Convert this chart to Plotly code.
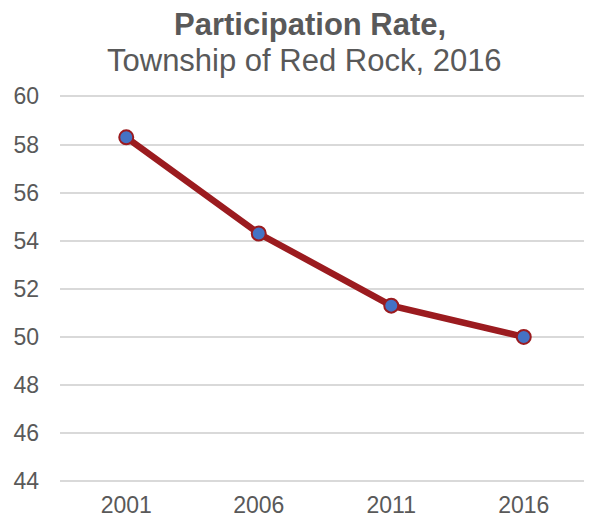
import plotly.graph_objects as go

years = ["2001", "2006", "2011", "2016"]
rate = [58.3, 54.3, 51.3, 50.0]
y_ticks = [44, 46, 48, 50, 52, 54, 56, 58, 60]
title_main = "Participation Rate,"
title_sub = "Township of Red Rock, 2016"

fig = go.Figure()
fig.add_trace(go.Scatter(
    x=years, y=rate, mode="lines+markers",
    line=dict(color="#9B1B1F", width=6.5),
    marker=dict(size=14, color="#4472C4", line=dict(color="#9B1B1F", width=2)),
    showlegend=False,
))

fig.add_annotation(text="<b>" + title_main + "</b>", xref="paper", yref="paper",
                   x=0.471, xanchor="center", y=1.0, yshift=70, yanchor="middle",
                   showarrow=False, font=dict(size=31, color="#595959"))
fig.add_annotation(text=title_sub, xref="paper", yref="paper",
                   x=0.462, xanchor="center", y=1.0, yshift=34, yanchor="middle",
                   showarrow=False, font=dict(size=31, color="#595959"))

fig.update_layout(
    width=584, height=510,
    margin=dict(l=52, r=2, t=86, b=32, autoexpand=False),
    paper_bgcolor="white", plot_bgcolor="white",
    font=dict(family="Liberation Sans, Arial, sans-serif", color="#595959", size=23),
    xaxis=dict(type="category", showgrid=False, showline=False, ticks="",
               tickfont=dict(size=23, color="#595959"), range=[-0.5, 3.5],
               ticklabelstandoff=3),
    yaxis=dict(range=[43.8, 60.1], tickvals=y_ticks, showgrid=True,
               gridcolor="#D9D9D9", gridwidth=1.5, zeroline=False, showline=False,
               ticks="", tickfont=dict(size=23, color="#595959"), ticklabelstandoff=20),
)

fig.write_html("out.html")
